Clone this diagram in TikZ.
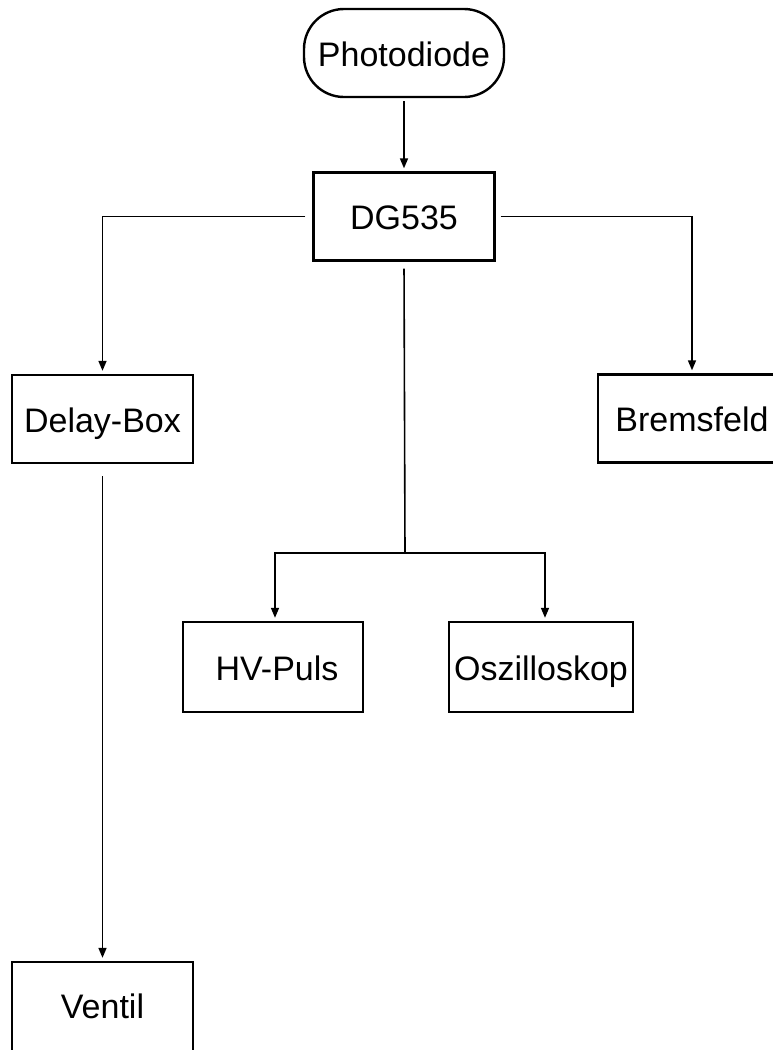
\documentclass[tikz,border=0pt]{standalone}
\usepackage{fontspec}
\setmainfont{Liberation Sans}
\usetikzlibrary{arrows.meta}
\begin{document}
\begin{tikzpicture}[x=1pt,y=-1pt,
  box/.style={draw,line width=2.4pt,minimum width=181pt,minimum height=88pt,inner sep=0pt,
    text height=26pt,text depth=0pt,font=\fontsize{34}{38}\selectfont},
  pill/.style={box,rounded corners=40pt,minimum width=200pt},
  conn/.style={line width=1.6pt},
  arr/.style={conn,-{Triangle[length=10pt,width=8pt]},shorten >=3pt}]
\useasboundingbox (0,0) rectangle (773,1050);
\clip (0,0) rectangle (773,1050);
\node[pill] (pd) at (404,53) {Photodiode};
\node[box] (dg) at (404,216.5) {DG535};
\node[box] (db) at (102.5,419) {Delay-Box};
\node[box,minimum width=188pt] (bf) at (692,418.5) {Bremsfeld};
\node[box,minimum height=90pt,minimum width=180pt] (hv) at (273,667) {\hspace*{8pt}HV-Puls};
\node[box,minimum height=90pt,minimum width=184pt] (os) at (541,667) {Oszilloskop};
\node[box,minimum height=110pt,text height=2pt] (ve) at (102.5,1017) {Ventil};
\coordinate (br) at (405,553);
\draw[arr,shorten <=3pt] (pd.south) -- (dg.north);
\draw[arr,shorten <=7pt] (dg.west) -| (db.north);
\draw[arr,shorten <=5pt] (dg.east) -| (bf.north);
\draw[conn,shorten <=7pt] (dg.south) -- (br);
\draw[arr] (br) -| ([xshift=2pt]hv.north);
\draw[arr] (br) -| ([xshift=4pt]os.north);
\draw[arr,shorten <=12pt] (db.south) -- (ve.north);
\end{tikzpicture}
\end{document}
